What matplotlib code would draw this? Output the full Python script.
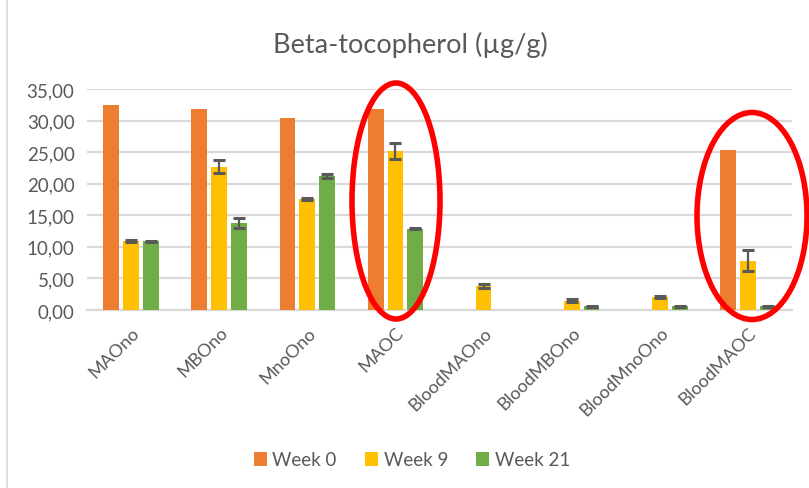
import numpy as np
import matplotlib
matplotlib.use("Agg")
import matplotlib.pyplot as plt
from matplotlib.patches import Ellipse
from matplotlib.ticker import FuncFormatter

plt.rcParams['font.family'] = ['Lato', 'DejaVu Sans']

groups = ["MAOno", "MBOno", "MnoOno", "MAOC", "BloodMAOno", "BloodMBOno", "BloodMnoOno", "BloodMAOC"]
week0 = [32.5, 31.8, 30.4, 31.8, 0.0, 0.0, 0.0, 25.3]
week9 = [10.9, 22.7, 17.6, 25.2, 3.75, 1.5, 2.0, 7.8]
week9_err = [0.15, 1.0, 0.1, 1.25, 0.3, 0.25, 0.15, 1.7]
week21 = [10.9, 13.8, 21.2, 12.9, 0.0, 0.6, 0.6, 0.6]
week21_err = [0.1, 0.8, 0.35, 0.15, 0.0, 0.1, 0.1, 0.1]
series = ["Week 0", "Week 9", "Week 21"]
colors = ["#ED7D31", "#FFC000", "#70AD47"]

fig = plt.figure(figsize=(8.09, 4.89), dpi=100)
ax = fig.add_axes([87/809, 1-311/489, (792-87)/809, (311-90)/489])

x = np.arange(len(groups))
w = 0.18
off = 0.225
grey = "#595959"
ax.bar(x - off, week0, w, color=colors[0], label=series[0], zorder=3)
ax.bar(x, week9, w, color=colors[1], label=series[1], zorder=3)
ax.bar(x + off, week21, w, color=colors[2], label=series[2], zorder=3)

for xs, vals, errs in [(x, week9, week9_err), (x + off, week21, week21_err)]:
    vals = np.array(vals); errs = np.array(errs)
    m = vals > 0
    ax.errorbar(xs[m], vals[m], yerr=errs[m], fmt='none', ecolor=grey,
                elinewidth=1.6, capsize=4, capthick=2.2, zorder=4)

ax.set_xlim(-0.5, len(groups) - 0.5)
ax.set_ylim(0, 35)
ax.set_yticks(np.arange(0, 36, 5))
ax.yaxis.set_major_formatter(FuncFormatter(lambda v, p: f"{v:.2f}".replace(".", ",")))
ax.grid(axis='y', color='#D9D9D9', lw=1.6, zorder=0)
for s in ['top', 'right', 'left']:
    ax.spines[s].set_visible(False)
ax.spines['bottom'].set_color('#D9D9D9')
ax.spines['bottom'].set_linewidth(1.6)
ax.tick_params(axis='both', length=0, colors=grey, labelsize=13.5, pad=9)
ax.set_xticks(x)
ax.set_xticklabels(groups, rotation=45, ha='right', rotation_mode='anchor', fontsize=13)
ax.tick_params(axis='x', pad=10)

fig.text(410/809, 1-45/489, "Beta-tocopherol (µg/g)", ha='center', va='center',
         fontsize=19.5, color=grey)

fig.legend(loc='center', bbox_to_anchor=(412/809, 1-461/489), ncol=3, frameon=False,
           fontsize=13.5, handlelength=0.7, handleheight=0.7, handletextpad=0.3,
           columnspacing=1.5, labelcolor=grey)

# red ellipses
fig.add_artist(Ellipse((396/809, 1-202/489), 88/809, 236/489, transform=fig.transFigure,
                       fill=False, edgecolor='#FF0000', lw=4))
fig.add_artist(Ellipse((752/809, 1-217/489), 110/809, 207/489, transform=fig.transFigure,
                       fill=False, edgecolor='#FF0000', lw=4))

# chart border on the left
fig.add_artist(plt.Line2D([7/809, 7/809], [0, 1], transform=fig.transFigure,
                          color='#D9D9D9', lw=1.2))

fig.savefig("out.png", dpi=100)
